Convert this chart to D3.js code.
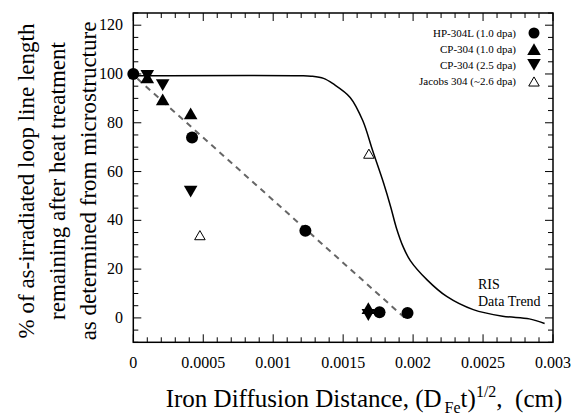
<!DOCTYPE html>
<head>
  <meta charset="utf-8">
  <style>
    body { margin: 0; background: #fff; }
    svg text { font-family: "Liberation Serif", Times, serif; fill: #000; }
    .frame { fill: none; stroke: #000; stroke-width: 1.5px; }
    .tick { stroke: #000; stroke-width: 1px; }
    .trend { fill: none; stroke: #000; stroke-width: 1.5px; }
    .fit { fill: none; stroke: #666; stroke-width: 2px; stroke-dasharray: 6 5; }
  </style>
</head>
<body>
<svg id="chart" width="573" height="416"></svg>
<script src="https://cdn.jsdelivr.net/npm/d3@7"></script>
<script>
  // data
  var xTicks = [0, 0.0005, 0.001, 0.0015, 0.002, 0.0025, 0.003];
  var xTickLabels = ["0", "0.0005", "0.001", "0.0015", "0.002", "0.0025", "0.003"];
  var yTicks = [0, 20, 40, 60, 80, 100, 120];

  var hp304L = [[0, 100], [0.00042, 74], [0.00123, 35.7], [0.00176, 2.3], [0.00196, 2]];
  var cp304a = [[0.0001, 97.8], [0.00021, 88.8], [0.00041, 83], [0.00168, 3.2]];
  var cp304b = [[0.0001, 100], [0.00021, 96.2], [0.00041, 52.6], [0.00168, 2]];
  var jacobs = [[0.000476, 33.3], [0.001684, 66.7]];

  var fitLine = [[0.00003, 98], [0.00196, -1]];
  var risTrend = [[0, 99.3], [0.0012, 99.3], [0.00127, 99.1], [0.00136, 98.2], [0.00143, 95.9],
                  [0.00155, 90.4], [0.00164, 80.9], [0.00171, 68.7], [0.00179, 55.1], [0.00184, 45.5],
                  [0.00188, 37], [0.00193, 29], [0.00198, 23.5], [0.0021, 15.6], [0.00224, 8.8],
                  [0.00243, 3.4], [0.00264, 0.7], [0.00283, -0.4], [0.00294, -2.3]];

  var legendNames = ["HP-304L (1.0 dpa)", "CP-304 (1.0 dpa)", "CP-304 (2.5 dpa)", "Jacobs 304 (~2.6 dpa)"];
  var yTitle = ["% of as-irradiated loop line length", "remaining after heat treatment", "as determined from microstructure"];

  (function() {
    var svg = d3.select("#chart");
    var pLeft = 133.3, pRight = 553, pTop = 13, pBottom = 342.3;

    var x = d3.scaleLinear().domain([0, 0.003]).range([pLeft, pRight]);
    var y = d3.scaleLinear().domain([-10, 125]).range([pBottom, pTop]);

    // ticks on all four sides, pointing inward
    var g = svg.append("g");
    d3.range(0, 31).forEach(function(i) {
      var v = i * 0.0001, len = (i % 5 == 0) ? 8 : 5;
      g.append("line").attr("class", "tick").attr("x1", x(v)).attr("x2", x(v)).attr("y1", pBottom).attr("y2", pBottom - len);
      g.append("line").attr("class", "tick").attr("x1", x(v)).attr("x2", x(v)).attr("y1", pTop).attr("y2", pTop + len);
    });
    d3.range(-10, 126, 5).forEach(function(v) {
      var len = (v % 20 == 0) ? 8 : 5;
      g.append("line").attr("class", "tick").attr("x1", pLeft).attr("x2", pLeft + len).attr("y1", y(v)).attr("y2", y(v));
      g.append("line").attr("class", "tick").attr("x1", pRight).attr("x2", pRight - len).attr("y1", y(v)).attr("y2", y(v));
    });
    svg.append("rect").attr("class", "frame")
      .attr("x", pLeft).attr("y", pTop).attr("width", pRight - pLeft).attr("height", pBottom - pTop);

    svg.selectAll(".xl").data(xTicks).enter().append("text")
      .attr("x", function(d) { return x(d); }).attr("y", 368)
      .attr("text-anchor", "middle").attr("font-size", 16)
      .text(function(d, i) { return xTickLabels[i]; });
    svg.selectAll(".yl").data(yTicks).enter().append("text")
      .attr("x", 123).attr("y", function(d) { return y(d) + 5; })
      .attr("text-anchor", "end").attr("font-size", 16)
      .text(function(d) { return d; });

    // axis titles
    var xt = svg.append("text").attr("x", 364).attr("y", 407).attr("text-anchor", "middle").attr("font-size", 25);
    xt.append("tspan").text("Iron Diffusion Distance, (D");
    xt.append("tspan").attr("dx", 3).attr("dy", 6).attr("font-size", 16).text("Fe");
    xt.append("tspan").attr("dy", -6).text("t)");
    xt.append("tspan").attr("dy", -10).attr("font-size", 16).text("1/2");
    xt.append("tspan").attr("dy", 10).text(",\u00a0\u00a0(cm)");

    svg.selectAll(".yt").data(yTitle).enter().append("text")
      .attr("transform", function(d, i) { return "translate(" + (34 + i * 31) + ",181) rotate(-90)"; })
      .attr("text-anchor", "middle").attr("font-size", 23)
      .text(function(d) { return d; });

    // lines
    var line = d3.line().x(function(d) { return x(d[0]); }).y(function(d) { return y(d[1]); });
    svg.append("path").datum(fitLine).attr("class", "fit").attr("d", line);
    svg.append("path").datum(risTrend).attr("class", "trend").attr("d", line.curve(d3.curveCatmullRom.alpha(0.5)));

    svg.append("text").attr("x", 478).attr("y", 289).attr("font-size", 14).text("RIS");
    svg.append("text").attr("x", 478).attr("y", 306).attr("font-size", 14).text("Data Trend");

    // markers
    var tri = d3.symbol().type(d3.symbolTriangle).size(80);
    var triOpen = d3.symbol().type(d3.symbolTriangle).size(48);
    svg.selectAll(".cpa").data(cp304a).enter().append("path")
      .attr("d", tri).attr("fill", "#000")
      .attr("transform", function(d) { return "translate(" + x(d[0]) + "," + y(d[1]) + ")"; });
    svg.selectAll(".cpb").data(cp304b).enter().append("path")
      .attr("d", tri).attr("fill", "#000")
      .attr("transform", function(d) { return "translate(" + x(d[0]) + "," + y(d[1]) + ") rotate(180)"; });
    svg.selectAll(".hp").data(hp304L).enter().append("circle")
      .attr("cx", function(d) { return x(d[0]); }).attr("cy", function(d) { return y(d[1]); })
      .attr("r", 6).attr("fill", "#000");
    svg.selectAll(".jc").data(jacobs).enter().append("path")
      .attr("d", triOpen).attr("fill", "#fff").attr("stroke", "#000").attr("stroke-width", 1)
      .attr("transform", function(d) { return "translate(" + x(d[0]) + "," + y(d[1]) + ")"; });

    // legend
    var rows = [33, 49, 65, 81];
    legendNames.forEach(function(name, i) {
      svg.append("text").attr("x", 516).attr("y", rows[i] + 4).attr("text-anchor", "end")
        .attr("font-size", 11).text(name);
      var gx = 534, gy = rows[i];
      if (i == 0) svg.append("circle").attr("cx", gx).attr("cy", gy).attr("r", 5.5).attr("fill", "#000");
      if (i == 1) svg.append("path").attr("d", tri).attr("fill", "#000").attr("transform", "translate(" + gx + "," + (gy + 2) + ")");
      if (i == 2) svg.append("path").attr("d", tri).attr("fill", "#000").attr("transform", "translate(" + gx + "," + (gy - 2) + ") rotate(180)");
      if (i == 3) svg.append("path").attr("d", triOpen).attr("fill", "#fff").attr("stroke", "#000").attr("transform", "translate(" + gx + "," + (gy + 2) + ")");
    });
  })();
</script>
</body>
